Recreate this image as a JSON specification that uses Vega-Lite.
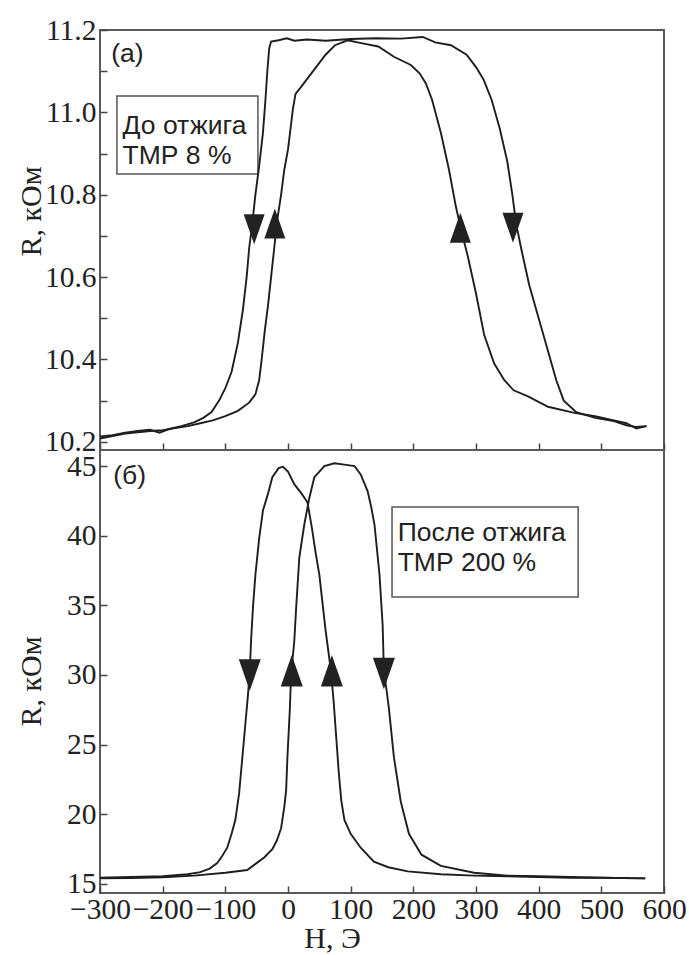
{
  "$schema": "https://vega.github.io/schema/vega-lite/v6.json",
  "autosize": {"type": "pad"},
  "padding": {"left": 15, "top": 14, "right": 5, "bottom": 0},
  "background": "white",
  "bounds": "flush",
  "spacing": 0,
  "config": {
    "view": {"stroke": "#5a5a5a", "strokeWidth": 2},
    "concat": {"spacing": 0},
    "axis": {
      "domain": false,
      "grid": false,
      "tickColor": "#444444",
      "tickWidth": 1.5,
      "tickSize": -7,
      "labelFont": "Liberation Serif",
      "labelFontSize": 29.5,
      "labelColor": "#222222",
      "labelOverlap": false,
      "labelFlush": false,
      "labelBound": false,
      "titleFont": "Liberation Serif",
      "titleFontSize": 30,
      "titleFontWeight": "normal",
      "titleColor": "#222222"
    }
  },
  "datasets": {
    "top": [
      {"s": "A", "H": -300, "R": 10.213}, {"s": "A", "H": -280, "R": 10.216}, {"s": "A", "H": -260, "R": 10.222}, {"s": "A", "H": -240, "R": 10.226}, {"s": "A", "H": -220, "R": 10.229}, {"s": "A", "H": -205, "R": 10.222}, {"s": "A", "H": -190, "R": 10.231}, {"s": "A", "H": -170, "R": 10.238}, {"s": "A", "H": -150, "R": 10.247}, {"s": "A", "H": -135, "R": 10.258}, {"s": "A", "H": -122, "R": 10.272}, {"s": "A", "H": -110, "R": 10.30}, {"s": "A", "H": -100, "R": 10.33}, {"s": "A", "H": -90, "R": 10.37}, {"s": "A", "H": -80, "R": 10.44}, {"s": "A", "H": -72, "R": 10.52}, {"s": "A", "H": -66, "R": 10.60}, {"s": "A", "H": -62, "R": 10.67}, {"s": "A", "H": -57, "R": 10.73}, {"s": "A", "H": -52, "R": 10.80}, {"s": "A", "H": -46, "R": 10.87}, {"s": "A", "H": -40, "R": 10.95}, {"s": "A", "H": -36, "R": 11.03}, {"s": "A", "H": -33, "R": 11.10}, {"s": "A", "H": -30, "R": 11.155}, {"s": "A", "H": -27, "R": 11.172}, {"s": "A", "H": -15, "R": 11.175}, {"s": "A", "H": -2, "R": 11.18}, {"s": "A", "H": 10, "R": 11.174}, {"s": "A", "H": 30, "R": 11.177}, {"s": "A", "H": 60, "R": 11.174}, {"s": "A", "H": 100, "R": 11.178}, {"s": "A", "H": 140, "R": 11.18}, {"s": "A", "H": 180, "R": 11.179}, {"s": "A", "H": 215, "R": 11.183}, {"s": "A", "H": 235, "R": 11.17}, {"s": "A", "H": 260, "R": 11.163}, {"s": "A", "H": 285, "R": 11.14}, {"s": "A", "H": 300, "R": 11.11}, {"s": "A", "H": 312, "R": 11.08}, {"s": "A", "H": 325, "R": 11.03}, {"s": "A", "H": 338, "R": 10.96}, {"s": "A", "H": 350, "R": 10.88}, {"s": "A", "H": 358, "R": 10.80}, {"s": "A", "H": 364, "R": 10.73}, {"s": "A", "H": 372, "R": 10.67}, {"s": "A", "H": 385, "R": 10.58}, {"s": "A", "H": 400, "R": 10.50}, {"s": "A", "H": 415, "R": 10.42}, {"s": "A", "H": 428, "R": 10.35}, {"s": "A", "H": 440, "R": 10.30}, {"s": "A", "H": 460, "R": 10.272}, {"s": "A", "H": 490, "R": 10.258}, {"s": "A", "H": 520, "R": 10.25}, {"s": "A", "H": 540, "R": 10.24}, {"s": "A", "H": 555, "R": 10.236}, {"s": "A", "H": 572, "R": 10.238},
      {"s": "B", "H": -300, "R": 10.208}, {"s": "B", "H": -280, "R": 10.214}, {"s": "B", "H": -260, "R": 10.22}, {"s": "B", "H": -240, "R": 10.223}, {"s": "B", "H": -220, "R": 10.226}, {"s": "B", "H": -200, "R": 10.228}, {"s": "B", "H": -180, "R": 10.233}, {"s": "B", "H": -160, "R": 10.238}, {"s": "B", "H": -140, "R": 10.245}, {"s": "B", "H": -120, "R": 10.252}, {"s": "B", "H": -100, "R": 10.262}, {"s": "B", "H": -80, "R": 10.275}, {"s": "B", "H": -62, "R": 10.295}, {"s": "B", "H": -52, "R": 10.315}, {"s": "B", "H": -46, "R": 10.35}, {"s": "B", "H": -42, "R": 10.40}, {"s": "B", "H": -37, "R": 10.47}, {"s": "B", "H": -32, "R": 10.53}, {"s": "B", "H": -27, "R": 10.60}, {"s": "B", "H": -22, "R": 10.67}, {"s": "B", "H": -17, "R": 10.74}, {"s": "B", "H": -11, "R": 10.80}, {"s": "B", "H": -6, "R": 10.86}, {"s": "B", "H": 0, "R": 10.91}, {"s": "B", "H": 4, "R": 10.96}, {"s": "B", "H": 8, "R": 11.01}, {"s": "B", "H": 12, "R": 11.045}, {"s": "B", "H": 20, "R": 11.06}, {"s": "B", "H": 30, "R": 11.08}, {"s": "B", "H": 40, "R": 11.10}, {"s": "B", "H": 50, "R": 11.12}, {"s": "B", "H": 60, "R": 11.14}, {"s": "B", "H": 75, "R": 11.163}, {"s": "B", "H": 95, "R": 11.175}, {"s": "B", "H": 117, "R": 11.168}, {"s": "B", "H": 144, "R": 11.16}, {"s": "B", "H": 169, "R": 11.135}, {"s": "B", "H": 196, "R": 11.115}, {"s": "B", "H": 210, "R": 11.095}, {"s": "B", "H": 220, "R": 11.07}, {"s": "B", "H": 230, "R": 11.03}, {"s": "B", "H": 244, "R": 10.95}, {"s": "B", "H": 257, "R": 10.86}, {"s": "B", "H": 268, "R": 10.77}, {"s": "B", "H": 277, "R": 10.71}, {"s": "B", "H": 287, "R": 10.65}, {"s": "B", "H": 300, "R": 10.56}, {"s": "B", "H": 313, "R": 10.46}, {"s": "B", "H": 329, "R": 10.39}, {"s": "B", "H": 345, "R": 10.35}, {"s": "B", "H": 360, "R": 10.325}, {"s": "B", "H": 383, "R": 10.31}, {"s": "B", "H": 415, "R": 10.285}, {"s": "B", "H": 457, "R": 10.27}, {"s": "B", "H": 490, "R": 10.262}, {"s": "B", "H": 520, "R": 10.252}, {"s": "B", "H": 540, "R": 10.245}, {"s": "B", "H": 556, "R": 10.232}, {"s": "B", "H": 572, "R": 10.238}
    ],
    "bottom": [
      {"s": "A", "H": -300, "R": 15.45}, {"s": "A", "H": -250, "R": 15.5}, {"s": "A", "H": -200, "R": 15.55}, {"s": "A", "H": -160, "R": 15.7}, {"s": "A", "H": -140, "R": 15.85}, {"s": "A", "H": -125, "R": 16.1}, {"s": "A", "H": -113, "R": 16.5}, {"s": "A", "H": -105, "R": 17.0}, {"s": "A", "H": -97, "R": 17.6}, {"s": "A", "H": -90, "R": 18.6}, {"s": "A", "H": -84, "R": 19.6}, {"s": "A", "H": -78, "R": 21.5}, {"s": "A", "H": -73, "R": 24.0}, {"s": "A", "H": -68, "R": 26.5}, {"s": "A", "H": -64, "R": 28.5}, {"s": "A", "H": -61, "R": 30.2}, {"s": "A", "H": -59, "R": 32.4}, {"s": "A", "H": -56, "R": 34.8}, {"s": "A", "H": -52, "R": 37.2}, {"s": "A", "H": -46, "R": 39.8}, {"s": "A", "H": -40, "R": 41.8}, {"s": "A", "H": -32, "R": 43.0}, {"s": "A", "H": -25, "R": 44.2}, {"s": "A", "H": -15, "R": 44.85}, {"s": "A", "H": -8, "R": 44.95}, {"s": "A", "H": 0, "R": 44.6}, {"s": "A", "H": 10, "R": 43.7}, {"s": "A", "H": 22, "R": 43.0}, {"s": "A", "H": 31, "R": 42.4}, {"s": "A", "H": 38, "R": 40.6}, {"s": "A", "H": 44, "R": 38.8}, {"s": "A", "H": 50, "R": 37.2}, {"s": "A", "H": 55, "R": 35.2}, {"s": "A", "H": 60, "R": 33.2}, {"s": "A", "H": 65, "R": 31.5}, {"s": "A", "H": 69, "R": 30.1}, {"s": "A", "H": 73, "R": 28.0}, {"s": "A", "H": 77, "R": 25.5}, {"s": "A", "H": 81, "R": 23.0}, {"s": "A", "H": 85, "R": 21.0}, {"s": "A", "H": 90, "R": 19.6}, {"s": "A", "H": 100, "R": 18.6}, {"s": "A", "H": 116, "R": 17.6}, {"s": "A", "H": 137, "R": 16.6}, {"s": "A", "H": 160, "R": 16.2}, {"s": "A", "H": 191, "R": 15.9}, {"s": "A", "H": 244, "R": 15.7}, {"s": "A", "H": 297, "R": 15.6}, {"s": "A", "H": 350, "R": 15.55}, {"s": "A", "H": 400, "R": 15.5}, {"s": "A", "H": 450, "R": 15.45}, {"s": "A", "H": 500, "R": 15.45}, {"s": "A", "H": 570, "R": 15.4},
      {"s": "B", "H": -300, "R": 15.4}, {"s": "B", "H": -250, "R": 15.42}, {"s": "B", "H": -200, "R": 15.48}, {"s": "B", "H": -150, "R": 15.6}, {"s": "B", "H": -100, "R": 15.8}, {"s": "B", "H": -65, "R": 16.0}, {"s": "B", "H": -38, "R": 16.9}, {"s": "B", "H": -25, "R": 17.5}, {"s": "B", "H": -18, "R": 18.1}, {"s": "B", "H": -11, "R": 19.0}, {"s": "B", "H": -6, "R": 20.5}, {"s": "B", "H": -3, "R": 21.7}, {"s": "B", "H": -1, "R": 24.0}, {"s": "B", "H": 3, "R": 27.6}, {"s": "B", "H": 5, "R": 30.1}, {"s": "B", "H": 10, "R": 32.4}, {"s": "B", "H": 13, "R": 34.8}, {"s": "B", "H": 18, "R": 38.4}, {"s": "B", "H": 26, "R": 40.8}, {"s": "B", "H": 34, "R": 42.7}, {"s": "B", "H": 42, "R": 44.2}, {"s": "B", "H": 58, "R": 45.0}, {"s": "B", "H": 74, "R": 45.2}, {"s": "B", "H": 90, "R": 45.1}, {"s": "B", "H": 106, "R": 45.0}, {"s": "B", "H": 116, "R": 44.4}, {"s": "B", "H": 127, "R": 43.2}, {"s": "B", "H": 133, "R": 42.0}, {"s": "B", "H": 138, "R": 40.8}, {"s": "B", "H": 146, "R": 37.2}, {"s": "B", "H": 151, "R": 33.6}, {"s": "B", "H": 153, "R": 30.3}, {"s": "B", "H": 157, "R": 29.0}, {"s": "B", "H": 161, "R": 27.6}, {"s": "B", "H": 169, "R": 24.1}, {"s": "B", "H": 180, "R": 20.9}, {"s": "B", "H": 193, "R": 18.6}, {"s": "B", "H": 213, "R": 17.1}, {"s": "B", "H": 244, "R": 16.3}, {"s": "B", "H": 297, "R": 15.8}, {"s": "B", "H": 350, "R": 15.6}, {"s": "B", "H": 400, "R": 15.55}, {"s": "B", "H": 450, "R": 15.5}, {"s": "B", "H": 500, "R": 15.45}, {"s": "B", "H": 570, "R": 15.4}
    ],
    "arrowsTop": [
      {"H": -54, "R": 10.716, "dir": "down"}, {"H": -21, "R": 10.73, "dir": "up"}, {"H": 275, "R": 10.72, "dir": "up"}, {"H": 359, "R": 10.72, "dir": "down"}
    ],
    "arrowsBottom": [
      {"H": -61, "R": 30.0, "dir": "down"}, {"H": 6, "R": 30.3, "dir": "up"}, {"H": 70, "R": 30.3, "dir": "up"}, {"H": 153, "R": 30.1, "dir": "down"}
    ],
    "boxTop": [{"x1": -273, "x2": -48, "y1": 11.04, "y2": 10.85}],
    "boxBottom": [{"x1": 166, "x2": 463, "y1": 42.06, "y2": 35.6}],
    "textTop": [
      {"H": -282, "R": 11.141, "t": "(а)"},
      {"H": -264, "R": 10.967, "t": "До отжига"},
      {"H": -264, "R": 10.894, "t": "ТМР 8 %"}
    ],
    "textBottom": [
      {"H": -279, "R": 44.28, "t": "(б)"},
      {"H": 175, "R": 40.19, "t": "После отжига"},
      {"H": 175, "R": 38.04, "t": "ТМР 200 %"}
    ]
  },
  "vconcat": [
    {
      "width": 564,
      "height": 420,
      "layer": [
        {
          "data": {"name": "boxTop"},
          "mark": {"type": "rect", "fill": "white", "stroke": "#555555", "strokeWidth": 1.5},
          "encoding": {
            "x": {"field": "x1", "type": "quantitative", "scale": {"domain": [-300, 600], "nice": false, "zero": false},
              "axis": {"values": [-300, -250, -200, -150, -100, -50, 0, 50, 100, 150, 200, 250, 300, 350, 400, 450, 500, 550, 600], "labels": false, "title": null}},
            "x2": {"field": "x2"},
            "y": {"field": "y1", "type": "quantitative", "scale": {"domain": [10.18, 11.2], "nice": false, "zero": false},
              "axis": {"values": [10.2, 10.3, 10.4, 10.5, 10.6, 10.7, 10.8, 10.9, 11.0, 11.1, 11.2],
                "labelExpr": "indexof(['10.2','10.4','10.6','10.8','11.0','11.2'], format(datum.value, '.1f')) >= 0 ? format(datum.value, '.1f') : ''",
                "labelPadding": 11,
                "title": "R, кОм", "titleX": -69, "titleY": 181, "titleBaseline": "middle", "titleAlign": "center"}},
            "y2": {"field": "y2"}
          }
        },
        {
          "data": {"name": "top"},
          "mark": {"type": "line", "color": "#1e1e1e", "strokeWidth": 1.9, "clip": true},
          "encoding": {
            "x": {"field": "H", "type": "quantitative"},
            "y": {"field": "R", "type": "quantitative"},
            "detail": {"field": "s"},
            "order": {"field": "H", "type": "quantitative"}
          }
        },
        {
          "mark": {"type": "rule", "color": "#333333", "strokeWidth": 1.5, "strokeDash": [6, 4]},
          "encoding": {"x": {"datum": 0, "type": "quantitative"}}
        },
        {
          "data": {"name": "arrowsTop"},
          "mark": {"type": "point", "filled": true, "color": "#222222", "opacity": 1, "size": 441},
          "encoding": {
            "x": {"field": "H", "type": "quantitative"},
            "y": {"field": "R", "type": "quantitative"},
            "shape": {"field": "dir", "type": "nominal", "legend": null,
              "scale": {"domain": ["down", "up"], "range": ["M-1,-1.43L1,-1.43L0,1.43Z", "M-1,1.43L1,1.43L0,-1.43Z"]}}
          }
        },
        {
          "data": {"name": "textTop"},
          "mark": {"type": "text", "align": "left", "baseline": "middle", "font": "Liberation Sans", "fontSize": 26.5, "color": "#222222"},
          "encoding": {
            "x": {"field": "H", "type": "quantitative"},
            "y": {"field": "R", "type": "quantitative"},
            "text": {"field": "t"}
          }
        }
      ]
    },
    {
      "width": 564,
      "height": 443,
      "layer": [
        {
          "data": {"name": "boxBottom"},
          "mark": {"type": "rect", "fill": "white", "stroke": "#555555", "strokeWidth": 1.5},
          "encoding": {
            "x": {"field": "x1", "type": "quantitative", "scale": {"domain": [-300, 600], "nice": false, "zero": false},
              "axis": {"values": [-300, -250, -200, -150, -100, -50, 0, 50, 100, 150, 200, 250, 300, 350, 400, 450, 500, 550, 600],
                "labelExpr": "datum.value % 100 === 0 ? datum.label : ''",
                "labelPadding": 9,
                "title": "H, Э", "titleX": 232, "titleY": 45, "titleBaseline": "middle", "titleAlign": "center"}},
            "x2": {"field": "x2"},
            "y": {"field": "y1", "type": "quantitative", "scale": {"domain": [14.35, 46.15], "nice": false, "zero": false},
              "axis": {"values": [15, 17.5, 20, 22.5, 25, 27.5, 30, 32.5, 35, 37.5, 40, 42.5, 45],
                "labelExpr": "datum.value % 5 === 0 ? datum.label : ''",
                "labelPadding": 11,
                "title": "R, кОм", "titleX": -69, "titleY": 231, "titleBaseline": "middle", "titleAlign": "center"}},
            "y2": {"field": "y2"}
          }
        },
        {
          "data": {"name": "bottom"},
          "mark": {"type": "line", "color": "#1e1e1e", "strokeWidth": 1.9, "clip": true},
          "encoding": {
            "x": {"field": "H", "type": "quantitative"},
            "y": {"field": "R", "type": "quantitative"},
            "detail": {"field": "s"},
            "order": {"field": "H", "type": "quantitative"}
          }
        },
        {
          "mark": {"type": "rule", "color": "#333333", "strokeWidth": 1.5, "strokeDash": [6, 4]},
          "encoding": {"x": {"datum": 0, "type": "quantitative"}}
        },
        {
          "data": {"name": "arrowsBottom"},
          "mark": {"type": "point", "filled": true, "color": "#222222", "opacity": 1, "size": 484},
          "encoding": {
            "x": {"field": "H", "type": "quantitative"},
            "y": {"field": "R", "type": "quantitative"},
            "shape": {"field": "dir", "type": "nominal", "legend": null,
              "scale": {"domain": ["down", "up"], "range": ["M-1,-1.43L1,-1.43L0,1.43Z", "M-1,1.43L1,1.43L0,-1.43Z"]}}
          }
        },
        {
          "data": {"name": "textBottom"},
          "mark": {"type": "text", "align": "left", "baseline": "middle", "font": "Liberation Sans", "fontSize": 26.5, "color": "#222222"},
          "encoding": {
            "x": {"field": "H", "type": "quantitative"},
            "y": {"field": "R", "type": "quantitative"},
            "text": {"field": "t"}
          }
        }
      ]
    }
  ]
}
